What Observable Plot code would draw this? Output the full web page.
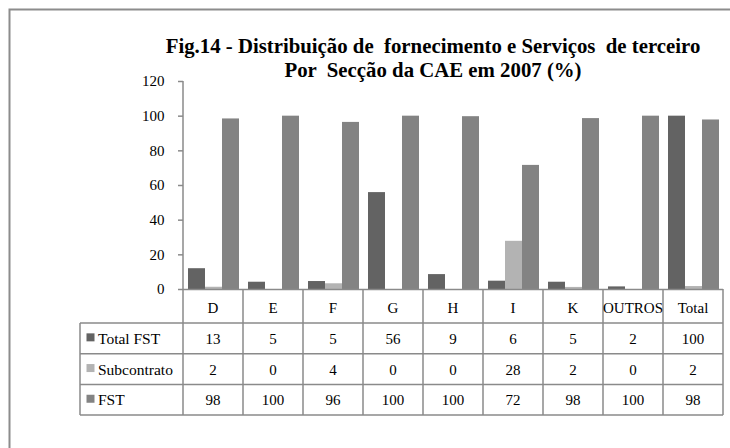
<!DOCTYPE html>
<html>
<head>
<meta charset="utf-8">
<script src="https://cdn.jsdelivr.net/npm/d3@7"></script>
<script src="https://cdn.jsdelivr.net/npm/@observablehq/plot@0.6"></script>
<style>
  html, body { margin: 0; padding: 0; background: white; }
</style>
</head>
<body>
<div id="chart"></div>
<script>
const categories = ["D", "E", "F", "G", "H", "I", "K", "OUTROS", "Total"];
const series = ["Total FST", "Subcontrato", "FST"];
const colors = ["#636363", "#b3b3b3", "#838383"];
// bar heights (%)
const totalFST    = [12, 4.2, 4.6, 55.9, 8.6, 4.8, 4.2, 1.5, 100];
const subcontrato = [1.3, 0, 3.3, 0, 0, 27.8, 1.2, 0, 1.7];
const fst         = [98.4, 100, 96.4, 100, 99.7, 71.6, 98.6, 100, 97.8];
// values printed in the data table
const tableTotalFST    = ["13", "5", "5", "56", "9", "6", "5", "2", "100"];
const tableSubcontrato = ["2", "0", "4", "0", "0", "28", "2", "0", "2"];
const tableFST         = ["98", "100", "96", "100", "100", "72", "98", "100", "98"];
const yTicks = [0, 20, 40, 60, 80, 100, 120];
const titleLines = ["Fig.14 - Distribuição de  fornecimento e Serviços  de terceiro", "Por  Secção da CAE em 2007 (%)"];

const seriesValues = [totalFST, subcontrato, fst];
const tableRows = [tableTotalFST, tableSubcontrato, tableFST];
const data = [];
categories.forEach((c, i) => series.forEach((s, j) => data.push({cat: c, series: s, value: seriesValues[j][i]})));

const font = "'Liberation Serif', 'Times New Roman', serif";
const lineColor = "#8a8a8a";

const plot = Plot.plot({
  width: 730,
  height: 448,
  marginLeft: 181,
  marginRight: 5,
  marginTop: 81,
  marginBottom: 159,
  style: {fontFamily: font, fontSize: "15px", background: "white", color: "black", overflow: "visible"},
  fx: {domain: categories, padding: 0, axis: null, label: null},
  x: {domain: series, paddingInner: 0, paddingOuter: 0.17, axis: null},
  y: {domain: [0, 120], label: null},
  color: {domain: series, range: colors},
  marks: [
    Plot.barY(data, {fx: "cat", x: "series", y: "value", fill: "series", inset: 0}),
    Plot.ruleY([0], {stroke: lineColor, strokeWidth: 1.5}),
    Plot.axisY({ticks: yTicks, tickSize: 5, tickPadding: 14, stroke: lineColor, strokeWidth: 1.5, fill: "black", fontSize: 15, label: null})
  ]
});

document.getElementById("chart").appendChild(plot);

const svg = d3.select(plot);
const fxs = plot.scale("fx");
const ys = plot.scale("y");
const bw = fxs.bandwidth;
const colX = categories.map(c => fxs.apply(c));
const left0 = colX[0];
const right0 = colX[colX.length - 1] + bw;
const y0 = ys.apply(0);
const yTop = ys.apply(120);
const headerH = 34;
const rowH = 30.7;
const legendLeft = 80;

const g = svg.append("g").attr("text-anchor", "start");

// outer border
g.append("rect").attr("x", 9.5).attr("y", 9.5).attr("width", 730).attr("height", 448)
  .attr("fill", "none").attr("stroke", "#8c8c8c").attr("stroke-width", 2);

// y axis line
g.append("line").attr("x1", left0).attr("x2", left0).attr("y1", yTop).attr("y2", y0)
  .attr("stroke", lineColor).attr("stroke-width", 1.5);

// title
titleLines.forEach((t, i) => {
  g.append("text").attr("x", 433).attr("y", 53 + i * 24).attr("text-anchor", "middle")
    .attr("font-family", font).attr("font-weight", "bold").attr("font-size", 20.8)
    .attr("xml:space", "preserve").style("white-space", "pre").text(t);
});

const tableTop = y0 + headerH;
const tableBottom = tableTop + rowH * 3;

// vertical lines of table
[...colX, right0].forEach(x => {
  g.append("line").attr("x1", x).attr("x2", x).attr("y1", y0).attr("y2", tableBottom)
    .attr("stroke", lineColor).attr("stroke-width", 1.5);
});
g.append("line").attr("x1", legendLeft).attr("x2", legendLeft).attr("y1", tableTop).attr("y2", tableBottom)
  .attr("stroke", lineColor).attr("stroke-width", 1.5);
// horizontal lines
for (let r = 0; r <= 3; r++) {
  const y = tableTop + r * rowH;
  g.append("line").attr("x1", legendLeft).attr("x2", right0).attr("y1", y).attr("y2", y)
    .attr("stroke", lineColor).attr("stroke-width", 1.5);
}

// header labels
categories.forEach((c, i) => {
  g.append("text").attr("x", colX[i] + bw / 2).attr("y", y0 + headerH / 2 + 6.5)
    .attr("text-anchor", "middle").attr("font-family", font).attr("font-size", 15).text(c);
});

// rows
series.forEach((s, r) => {
  const cy = tableTop + r * rowH + rowH / 2;
  g.append("rect").attr("x", 86.5).attr("y", cy - 5).attr("width", 8).attr("height", 8).attr("fill", colors[r]);
  g.append("text").attr("x", 98).attr("y", cy + 5.5).attr("text-anchor", "start")
    .attr("font-family", font).attr("font-size", 15.5).text(s);
  tableRows[r].forEach((v, i) => {
    g.append("text").attr("x", colX[i] + bw / 2).attr("y", cy + 5.5)
      .attr("text-anchor", "middle").attr("font-family", font).attr("font-size", 15).text(v);
  });
});
</script>
</body>
</html>
